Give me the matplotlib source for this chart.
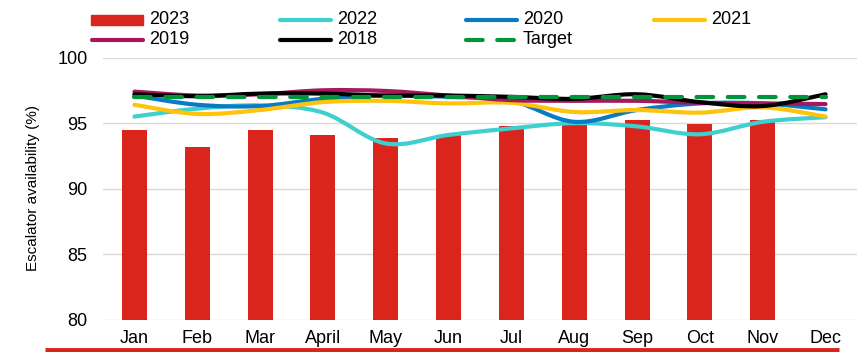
import numpy as np
import matplotlib
matplotlib.use("Agg")
import matplotlib.pyplot as plt
from matplotlib.path import Path
from matplotlib.patches import PathPatch, Rectangle
from matplotlib.lines import Line2D

plt.rcParams['font.family'] = ['Liberation Sans', 'DejaVu Sans']

months = ['Jan', 'Feb', 'Mar', 'April', 'May', 'Jun', 'Jul', 'Aug', 'Sep', 'Oct', 'Nov', 'Dec']

# 2023 only has values up to November
y2023 = [94.5, 93.2, 94.45, 94.1, 93.9, 94.1, 94.8, 94.95, 95.25, 94.9, 95.25]
y2022 = [95.5, 96.1, 96.35, 95.8, 93.45, 94.1, 94.6, 95.0, 94.75, 94.15, 95.1, 95.45]
y2020 = [97.1, 96.4, 96.3, 96.85, 97.1, 97.0, 96.7, 95.1, 96.0, 96.5, 96.5, 96.05]
y2021 = [96.4, 95.7, 96.0, 96.6, 96.7, 96.5, 96.55, 95.85, 96.0, 95.8, 96.2, 95.5]
y2019 = [97.4, 97.1, 97.2, 97.5, 97.45, 97.1, 96.75, 96.7, 96.7, 96.55, 96.5, 96.45]
y2018 = [97.2, 97.05, 97.25, 97.25, 97.1, 97.1, 97.0, 96.85, 97.2, 96.6, 96.3, 97.2]
target = [97.0] * 12

RED = '#DA251D'
series = [
    ('2022', y2022, '#3ECFCF'),
    ('2020', y2020, '#0A7AC2'),
    ('2021', y2021, '#FFC30B'),
    ('2019', y2019, '#A3195B'),
    ('2018', y2018, '#000000'),
]
GREEN = '#00953A'

W, H = 867, 352


def smooth_path(xs, ys):
    # excel style smoothed line: cubic bezier through the points
    n = len(xs)
    verts = [(xs[0], ys[0])]
    codes = [Path.MOVETO]
    for i in range(n - 1):
        a = max(i - 1, 0)
        d = min(i + 2, n - 1)
        c1 = (xs[i] + (xs[i + 1] - xs[a]) / 6, ys[i] + (ys[i + 1] - ys[a]) / 6)
        c2 = (xs[i + 1] - (xs[d] - xs[i]) / 6, ys[i + 1] - (ys[d] - ys[i]) / 6)
        verts += [c1, c2, (xs[i + 1], ys[i + 1])]
        codes += [Path.CURVE4] * 3
    return Path(verts, codes)


def fx(x):
    return x / W


def fy(y):
    return 1 - y / H


fig = plt.figure(figsize=(W / 100, H / 100), dpi=100)
ax = fig.add_axes([fx(103), fy(320), 754 / W, (320 - 57.5) / H])

x = np.arange(len(months))
ax.bar(x[:len(y2023)], y2023, width=0.4, color=RED, zorder=2, bottom=0)

for name, vals, col in series:
    p = PathPatch(smooth_path(x, vals), fill=False, edgecolor=col, lw=3,
                  capstyle='round', joinstyle='round', zorder=3)
    ax.add_patch(p)

ax.plot(x, target, color=GREEN, lw=3, dashes=(4, 3.5), dash_capstyle='round', zorder=4)

ax.set_xlim(-0.5, 11.5)
ax.set_ylim(80, 100)
ax.set_yticks([80, 85, 90, 95, 100])
ax.set_xticks(x)
ax.set_xticklabels(months)
ax.tick_params(axis='both', length=0, labelsize=13, colors='#000000')
ax.tick_params(axis='y', pad=11)
ax.tick_params(axis='x', pad=7)
ax.grid(axis='y', color='#D9D9D9', lw=1, zorder=0)
ax.set_axisbelow(True)
for s in ax.spines.values():
    s.set_visible(False)

fig.text(fx(33), fy(188), 'Escalator availability (%)', rotation=90,
         ha='center', va='center', fontsize=11)

# legend, laid out like the excel one (4 columns)
col_x = [90, 278, 464, 652]
row_y = [20, 40]
entries = [('2023', 'bar', RED)] + [(n, 'line', c) for n, v, c in series[:4]] + \
          [(series[4][0], 'line', series[4][2]), ('Target', 'dash', GREEN)]
for i, (name, kind, col) in enumerate(entries):
    cx = col_x[i % 4]
    cy = row_y[i // 4]
    if kind == 'bar':
        fig.add_artist(Rectangle((fx(cx + 1), fy(cy + 5)), 52 / W, 10 / H,
                                 color=col, transform=fig.transFigure))
    else:
        ln = Line2D([fx(cx + 2), fx(cx + 53)], [fy(cy), fy(cy)], color=col, lw=3,
                    solid_capstyle='round', dash_capstyle='round',
                    transform=fig.transFigure)
        if kind == 'dash':
            ln.set_dashes((4, 3.5))
        fig.add_artist(ln)
    fig.text(fx(cx + 59), fy(cy), name, ha='left', va='center', fontsize=13)

# red rule at the bottom
fig.add_artist(Line2D([fx(45), fx(839)], [fy(350), fy(350)], color=RED, lw=3.5,
                      solid_capstyle='butt', transform=fig.transFigure))

fig.savefig('out.png', dpi=100)
